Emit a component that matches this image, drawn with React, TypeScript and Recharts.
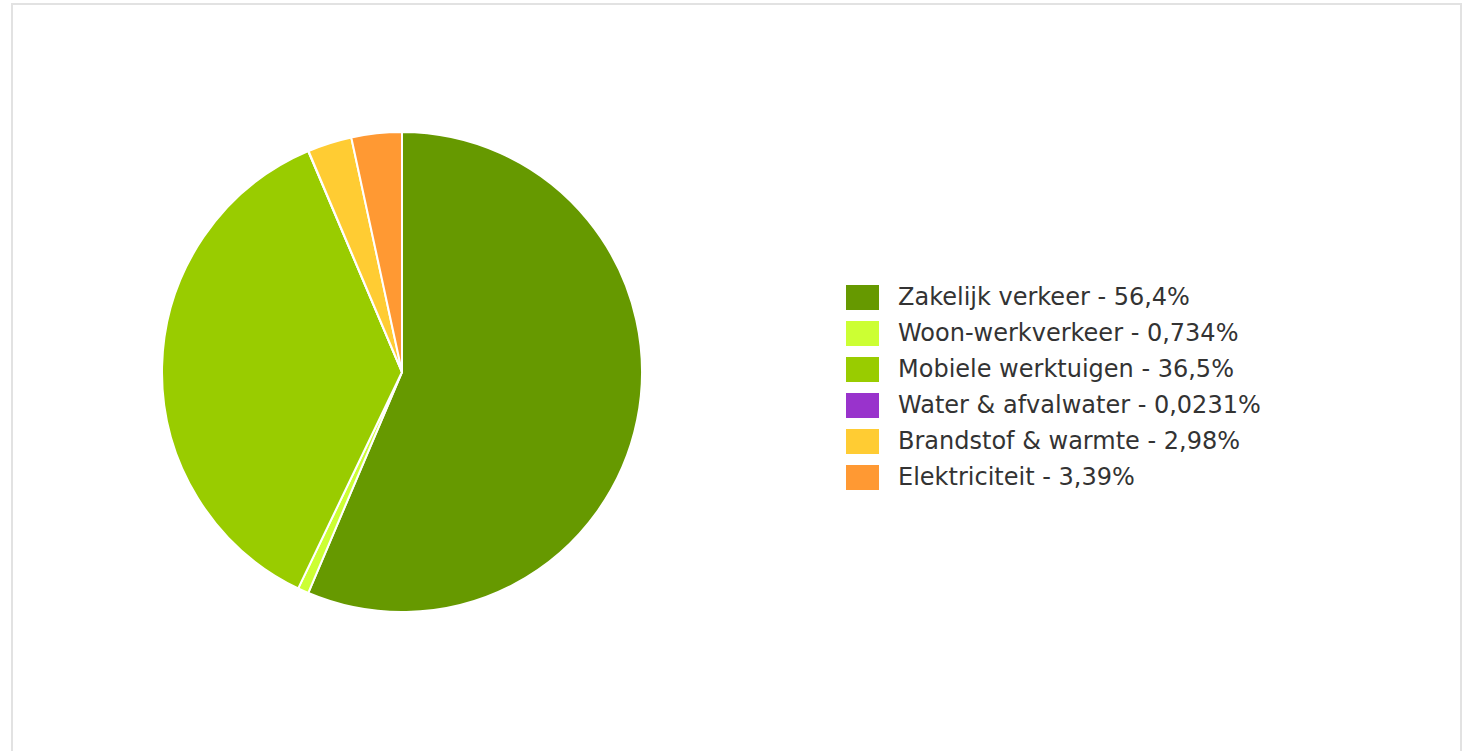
import React from 'react';
import { PieChart, Pie, Cell, Legend } from 'recharts';

const categories = [
  'Zakelijk verkeer',
  'Woon-werkverkeer',
  'Mobiele werktuigen',
  'Water & afvalwater',
  'Brandstof & warmte',
  'Elektriciteit',
];
const shares = [56.4, 0.734, 36.5, 0.0231, 2.98, 3.39];
const shareLabels = ['56,4%', '0,734%', '36,5%', '0,0231%', '2,98%', '3,39%'];
const COLORS = ['#669900', '#ccff33', '#99cc00', '#9933cc', '#ffcc33', '#ff9933'];

const data = categories.map((name, i) => ({ name, value: shares[i], label: shareLabels[i] }));

const renderLegend = () => (
  <div style={{ fontFamily: '"DejaVu Sans", sans-serif', fontSize: 24, color: '#333' }}>
    {data.map((d, i) => (
      <div key={d.name} style={{ display: 'flex', alignItems: 'center', height: 36 }}>
        <span style={{ width: 33, height: 25, background: COLORS[i], marginRight: 19, display: 'inline-block', flexShrink: 0 }} />
        <span style={{ whiteSpace: 'nowrap' }}>{`${d.name} - ${d.label}`}</span>
      </div>
    ))}
  </div>
);

export default function App() {
  return (
    <div
      style={{
        position: 'absolute',
        left: 11,
        top: 3,
        width: 1447,
        height: 760,
        border: '2px solid #e2e2e2',
        background: '#fff',
      }}
    >
      <PieChart width={1447} height={760}>
        <Pie
          data={data}
          dataKey="value"
          nameKey="name"
          cx={384}
          cy={362}
          outerRadius={240}
          startAngle={90}
          endAngle={-270}
          stroke="#ffffff"
          strokeWidth={2}
          isAnimationActive={false}
        >
          {data.map((entry, index) => (
            <Cell key={`cell-${index}`} fill={COLORS[index]} />
          ))}
        </Pie>
        <Legend
          content={renderLegend}
          wrapperStyle={{ left: 833, top: 274, width: 520 }}
        />
      </PieChart>
    </div>
  );
}
